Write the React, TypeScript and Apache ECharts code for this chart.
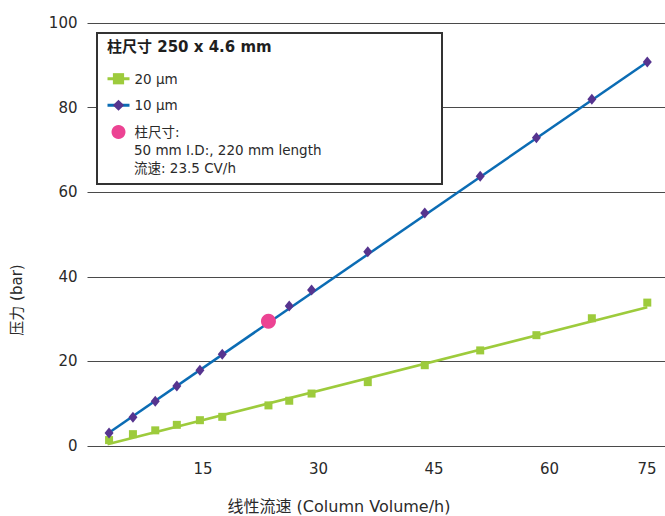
import React, { useEffect, useRef } from "react";
import * as echarts from "echarts";

const xTicks = [15, 30, 45, 60, 75];
const flow10 = [2.8, 5.9, 8.8, 11.6, 14.6, 17.5, 26.2, 29.1, 36.4, 43.8, 51.0, 58.3, 65.5, 72.7];
const pressure10 = [3.1, 6.8, 10.6, 14.2, 17.9, 21.7, 33.1, 36.9, 45.9, 55.1, 63.8, 72.9, 82.0, 90.8];
const flow20 = [2.8, 5.9, 8.8, 11.6, 14.6, 17.5, 23.5, 26.2, 29.1, 36.4, 43.8, 51.0, 58.3, 65.5, 72.7];
const pressure20 = [1.4, 2.8, 3.7, 5.0, 6.1, 6.9, 9.6, 10.7, 12.4, 15.1, 19.1, 22.6, 26.2, 30.2, 33.9];
const fit10 = [[2.5, 2.8], [72.7, 90.8]];
const fit20 = [[2.6, 0.4], [72.7, 32.8]];
const columnPoint = [[23.5, 29.5]];

const FONT = '"DejaVu Sans", "Noto Sans CJK SC", sans-serif';
const GREEN = "#9dcb3c";
const BLUE = "#0b6cb4";
const PURPLE = "#56348f";
const PINK = "#ec4393";
const TEXT = "#2a2a2a";

export default function App() {
  const ref = useRef<HTMLDivElement>(null);
  useEffect(() => {
    if (!ref.current) return;
    const chart = echarts.init(ref.current, null, { renderer: "svg" });
    const zip = (xs: number[], ys: number[]) => xs.map((x, i) => [x, ys[i]]);
    chart.setOption({
      animation: false,
      textStyle: { fontFamily: FONT },
      grid: { left: 87.5, right: 0, top: 23, bottom: 70 },
      xAxis: {
        type: "value",
        min: 0,
        max: 75,
        interval: 15,
        axisLine: { show: false },
        axisTick: { show: false },
        splitLine: { show: false },
        axisLabel: {
          showMinLabel: false,
          fontSize: 15,
          color: TEXT,
          fontFamily: FONT,
          margin: 15,
          formatter: (v: number) =>
            xTicks.includes(v) ? (v === 75 ? "{last|" + v + "}" : String(v)) : "",
          rich: {
            last: { padding: [0, 36, 0, 0], fontSize: 15, color: TEXT, fontFamily: FONT },
          },
        },
      },
      yAxis: {
        type: "value",
        min: 0,
        max: 100,
        interval: 20,
        axisLine: { show: false },
        axisTick: { show: false },
        splitLine: { show: true, lineStyle: { color: "#4a4a4a", width: 1 } },
        axisLabel: { fontSize: 15, color: TEXT, fontFamily: FONT, margin: 10 },
      },
      legend: {
        orient: "vertical",
        left: 101,
        top: 67,
        padding: 5,
        z: 10,
        itemWidth: 22,
        itemHeight: 14,
        itemGap: 13,
        textStyle: { fontSize: 13.5, color: TEXT, fontFamily: FONT },
        data: [
          { name: "20 μm", lineStyle: { color: GREEN, width: 3, opacity: 1 } },
          { name: "10 μm", lineStyle: { color: BLUE, width: 3, opacity: 1 } },
          { name: "柱尺寸:", icon: "circle", itemStyle: { color: PINK, opacity: 1 } },
        ],
      },
      series: [
        {
          name: "fit20",
          type: "line",
          data: fit20,
          symbol: "none",
          lineStyle: { color: GREEN, width: 2.5 },
          z: 2,
        },
        {
          name: "fit10",
          type: "line",
          data: fit10,
          symbol: "none",
          lineStyle: { color: BLUE, width: 2.5 },
          z: 2,
        },
        {
          name: "20 μm",
          type: "line",
          data: zip(flow20, pressure20),
          symbol: "rect",
          symbolSize: 8,
          itemStyle: { color: GREEN },
          lineStyle: { color: GREEN, opacity: 0 },
          z: 3,
        },
        {
          name: "10 μm",
          type: "line",
          data: zip(flow10, pressure10),
          symbol: "diamond",
          symbolSize: [9, 11],
          itemStyle: { color: PURPLE },
          lineStyle: { color: BLUE, opacity: 0 },
          z: 3,
        },
        {
          name: "柱尺寸:",
          type: "scatter",
          data: columnPoint,
          symbol: "circle",
          symbolSize: 15,
          itemStyle: { color: PINK, opacity: 1 },
          z: 4,
        },
      ],
      graphic: [
        {
          type: "rect",
          z: 5,
          shape: { x: 97, y: 33, width: 345, height: 151 },
          style: { fill: "#ffffff", stroke: "#333333", lineWidth: 2 },
        },
        {
          type: "text",
          z: 11,
          x: 107,
          y: 47,
          style: {
            text: "柱尺寸 250 x 4.6 mm",
            font: 'bold 15px "DejaVu Sans", "Noto Sans CJK SC", sans-serif',
            fill: "#1e1e1e",
            textVerticalAlign: "middle",
          },
        },
        {
          type: "text",
          z: 11,
          x: 134,
          y: 141,
          style: {
            text: "50 mm I.D:, 220 mm length\n流速: 23.5 CV/h",
            font: '13.5px "DejaVu Sans", "Noto Sans CJK SC", sans-serif',
            lineHeight: 18,
            fill: TEXT,
          },
        },
        {
          type: "text",
          x: 17,
          y: 300,
          rotation: Math.PI / 2,
          style: {
            text: "压力 (bar)",
            font: '15px "DejaVu Sans", "Noto Sans CJK SC", sans-serif',
            fill: TEXT,
            textAlign: "center",
            textVerticalAlign: "middle",
          },
        },
        {
          type: "text",
          x: 339,
          y: 506,
          style: {
            text: "线性流速 (Column Volume/h)",
            font: '16px "DejaVu Sans", "Noto Sans CJK SC", sans-serif',
            fill: TEXT,
            textAlign: "center",
            textVerticalAlign: "middle",
          },
        },
      ],
    });
    return () => chart.dispose();
  }, []);
  return (
    <div
      ref={ref}
      style={{ position: "fixed", left: 0, top: 0, width: 665, height: 516, background: "#fff" }}
    />
  );
}
